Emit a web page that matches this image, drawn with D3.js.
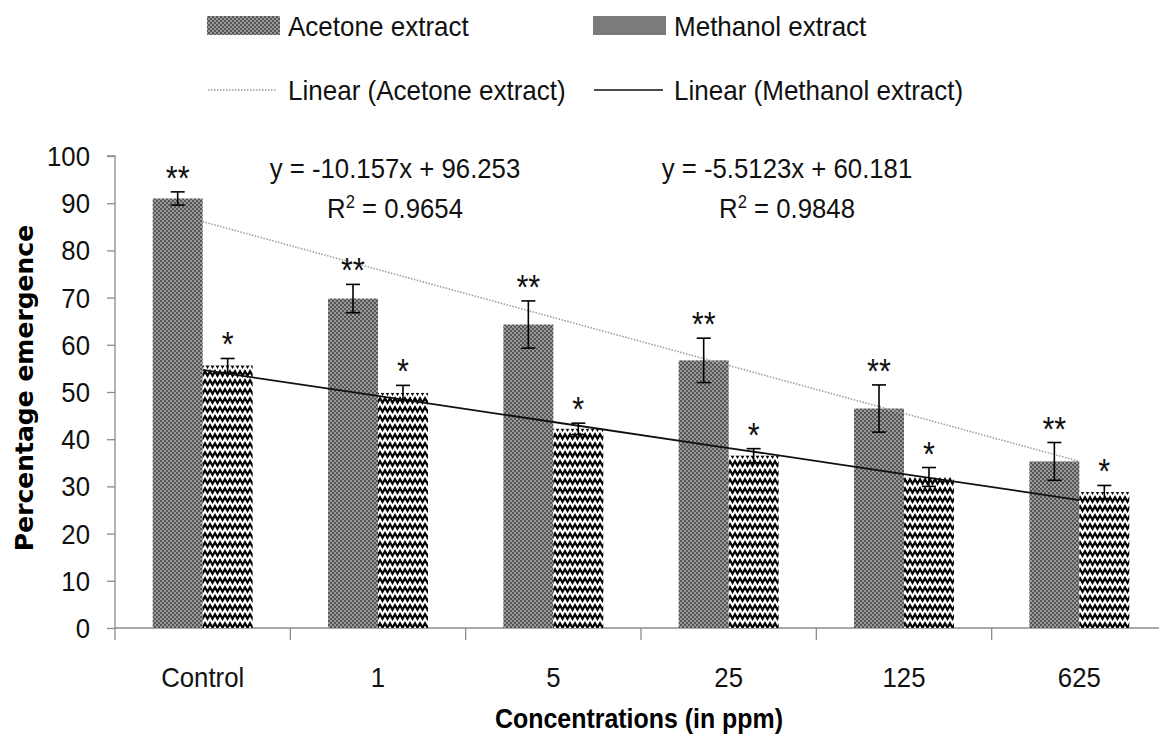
<!DOCTYPE html>
<html>
<head>
<meta charset="utf-8">
<script src="https://cdn.jsdelivr.net/npm/d3@7"></script>
<style>
  html, body { margin: 0; padding: 0; background: #fff; }
  svg { display: block; }
  text { font-family: "Liberation Sans", Arial, sans-serif; fill: #111; }
</style>
</head>
<body>
<svg id="chart" width="1159" height="745"></svg>
<script>
// Concentration groups on the x axis
const categories = ["Control", "1", "5", "25", "125", "625"];

// Mean percentage emergence per group
const acetone = [91.0, 69.8, 64.3, 56.7, 46.5, 35.3];
const methanol = [55.6, 49.8, 42.2, 36.5, 32.0, 28.8];

// Standard error of each mean
const acetoneErr = [1.4, 3.0, 5.0, 4.7, 5.0, 4.0];
const methanolErr = [1.5, 1.6, 1.2, 1.5, 2.0, 1.4];

// Significance markers
const acetoneSig = ["**", "**", "**", "**", "**", "**"];
const methanolSig = ["*", "*", "*", "*", "*", "*"];

// Linear trend fits (x = 1..6)
const acetoneFit = { slope: -10.157, intercept: 96.253, r2: "0.9654" };
const methanolFit = { slope: -5.5123, intercept: 60.181, r2: "0.9848" };

const yTicks = [0, 10, 20, 30, 40, 50, 60, 70, 80, 90, 100];

const svg = d3.select("#chart");
const plot = { left: 115, right: 1167, top: 156, bottom: 628 };

const x = d3.scaleBand().domain(categories).range([plot.left, plot.right])
  .paddingInner(0.43).paddingOuter(0.215);
const y = d3.scaleLinear().domain([0, 100]).range([plot.bottom, plot.top]);
const xs = d3.scaleBand().domain(["a", "m"]).range([0, x.bandwidth()]);

// Narrow text: regular glyphs squeezed horizontally
function stext(parent, px, py, str, opt = {}) {
  const t = parent.append("text")
    .attr("transform", `translate(${px},${py}) scale(${opt.sx ?? 0.92},1)`)
    .attr("text-anchor", opt.anchor ?? "start")
    .style("font-size", (opt.size ?? 28) + "px");
  if (opt.weight) t.style("font-weight", opt.weight);
  if (opt.family) t.style("font-family", opt.family);
  if (str !== null) t.text(str);
  return t;
}

// Fill patterns
const defs = svg.append("defs");
const chk = defs.append("pattern").attr("id", "checker")
  .attr("patternUnits", "userSpaceOnUse").attr("width", 4).attr("height", 4);
chk.append("rect").attr("width", 4).attr("height", 4).attr("fill", "#9a9a9a");
chk.append("rect").attr("width", 2).attr("height", 2).attr("fill", "#555");
chk.append("rect").attr("x", 2).attr("y", 2).attr("width", 2).attr("height", 2).attr("fill", "#555");

const zig = defs.append("pattern").attr("id", "zigzag")
  .attr("patternUnits", "userSpaceOnUse").attr("width", 5).attr("height", 9);
zig.append("rect").attr("width", 5).attr("height", 9).attr("fill", "#fff");
zig.append("path").attr("d", "M0,0 L2.5,4.5 L5,0 L5,4.5 L2.5,9 L0,4.5 Z").attr("fill", "#000");

// y axis
const yAxis = d3.axisLeft(y).tickValues(yTicks).tickSize(8).tickFormat("");
const gy = svg.append("g").attr("transform", `translate(${plot.left},0)`).call(yAxis);
gy.select(".domain").attr("stroke", "#8c8c8c").attr("stroke-width", 1.3)
  .attr("d", `M-8,${plot.top}H0V${plot.bottom + 12}`);
gy.selectAll(".tick line").attr("stroke", "#8c8c8c").attr("stroke-width", 1.3);
yTicks.forEach(v => stext(svg, 90, y(v) + 10, String(v), { anchor: "end" }));

// x axis: category boundaries carry the tick marks
const bounds = categories.map(c => x(c) - x.step() * x.paddingInner() / 2);
const gx = svg.append("g");
gx.append("line").attr("x1", plot.left).attr("x2", 1159).attr("y1", plot.bottom).attr("y2", plot.bottom)
  .attr("stroke", "#8c8c8c").attr("stroke-width", 1.3);
gx.selectAll("line.tk").data(bounds.slice(1)).join("line").attr("class", "tk")
  .attr("x1", d => d).attr("x2", d => d).attr("y1", plot.bottom).attr("y2", plot.bottom + 12)
  .attr("stroke", "#8c8c8c").attr("stroke-width", 1.3);
categories.forEach(c => stext(gx, x(c) + x.bandwidth() / 2, 687, c, { anchor: "middle" }));

// Bars
const series = [
  { key: "a", vals: acetone, err: acetoneErr, sig: acetoneSig, fill: "url(#checker)", gap: -2 },
  { key: "m", vals: methanol, err: methanolErr, sig: methanolSig, fill: "url(#zigzag)", gap: -2 }
];
series.forEach(s => {
  svg.append("g").selectAll("rect").data(categories).join("rect")
    .attr("x", c => x(c) + xs(s.key))
    .attr("width", xs.bandwidth())
    .attr("y", (c, i) => y(s.vals[i]))
    .attr("height", (c, i) => y(0) - y(s.vals[i]))
    .attr("fill", s.fill);
});

// Trend lines
function trend(fit) {
  return categories.map((c, i) => [x(c) + x.bandwidth() / 2, y(fit.slope * (i + 1) + fit.intercept)]);
}
const line = d3.line();
svg.append("path").attr("d", line(trend(acetoneFit)))
  .attr("fill", "none").attr("stroke", "#9a9a9a").attr("stroke-width", 1.5).attr("stroke-dasharray", "1.5,1.5");
svg.append("path").attr("d", line(trend(methanolFit)))
  .attr("fill", "none").attr("stroke", "#111").attr("stroke-width", 1.8);

// Error bars and significance marks
series.forEach(s => {
  const g = svg.append("g");
  categories.forEach((c, i) => {
    const cx = x(c) + xs(s.key) + xs.bandwidth() / 2;
    const top = y(s.vals[i] + s.err[i]);
    const bot = y(s.vals[i] - s.err[i]);
    g.append("line").attr("x1", cx).attr("x2", cx).attr("y1", top).attr("y2", bot)
      .attr("stroke", "#000").attr("stroke-width", 1.6);
    [top, bot].forEach(yy => g.append("line").attr("x1", cx - 7).attr("x2", cx + 7)
      .attr("y1", yy).attr("y2", yy).attr("stroke", "#000").attr("stroke-width", 1.6));
    stext(g, cx, top + s.gap, s.sig[i], { anchor: "middle", size: 36, sx: 0.85 });
  });
});

// Trend equations
function eq(fit) {
  const sgn = fit.intercept >= 0 ? "+ " : "- ";
  return `y = ${fit.slope}x ${sgn}${Math.abs(fit.intercept)}`;
}
[[acetoneFit, 395], [methanolFit, 787]].forEach(([fit, cx]) => {
  stext(svg, cx, 178, eq(fit), { anchor: "middle" });
  const t = stext(svg, cx, 218, null, { anchor: "middle" });
  t.append("tspan").text("R");
  t.append("tspan").attr("dy", -10).style("font-size", "18px").text("2");
  t.append("tspan").attr("dy", 10).text(" = " + fit.r2);
});

// Axis titles
svg.append("text").attr("transform", "translate(33,388) rotate(-90)")
  .attr("text-anchor", "middle")
  .style("font-family", "'DejaVu Sans', Verdana, sans-serif")
  .style("font-weight", "bold").style("font-size", "25px").style("fill", "#000")
  .text("Percentage emergence");
stext(svg, 639, 728, "Concentrations (in ppm)", { anchor: "middle", weight: "bold", sx: 0.89 })
  .style("fill", "#000");

// Legend
const leg = svg.append("g");
const legItems = [
  { label: "Acetone extract", kind: "box", fill: "url(#checker)", x: 207, y: 26 },
  { label: "Methanol extract", kind: "box", fill: "#7b7b7b", x: 593, y: 26 },
  { label: "Linear (Acetone extract)", kind: "dot", x: 207, y: 90 },
  { label: "Linear (Methanol extract)", kind: "solid", x: 593, y: 90 }
];
legItems.forEach(d => {
  if (d.kind === "box") {
    leg.append("rect").attr("x", d.x).attr("y", d.y - 10).attr("width", 73).attr("height", 19).attr("fill", d.fill);
  } else {
    leg.append("line").attr("x1", d.x + 1).attr("x2", d.x + 70).attr("y1", d.y).attr("y2", d.y)
      .attr("stroke", d.kind === "dot" ? "#9a9a9a" : "#111")
      .attr("stroke-width", d.kind === "dot" ? 1.4 : 1.6)
      .attr("stroke-dasharray", d.kind === "dot" ? "1.5,1.5" : null);
  }
  stext(leg, d.x + 81, d.y + 10, d.label, { sx: 0.93 });
});
</script>
</body>
</html>
